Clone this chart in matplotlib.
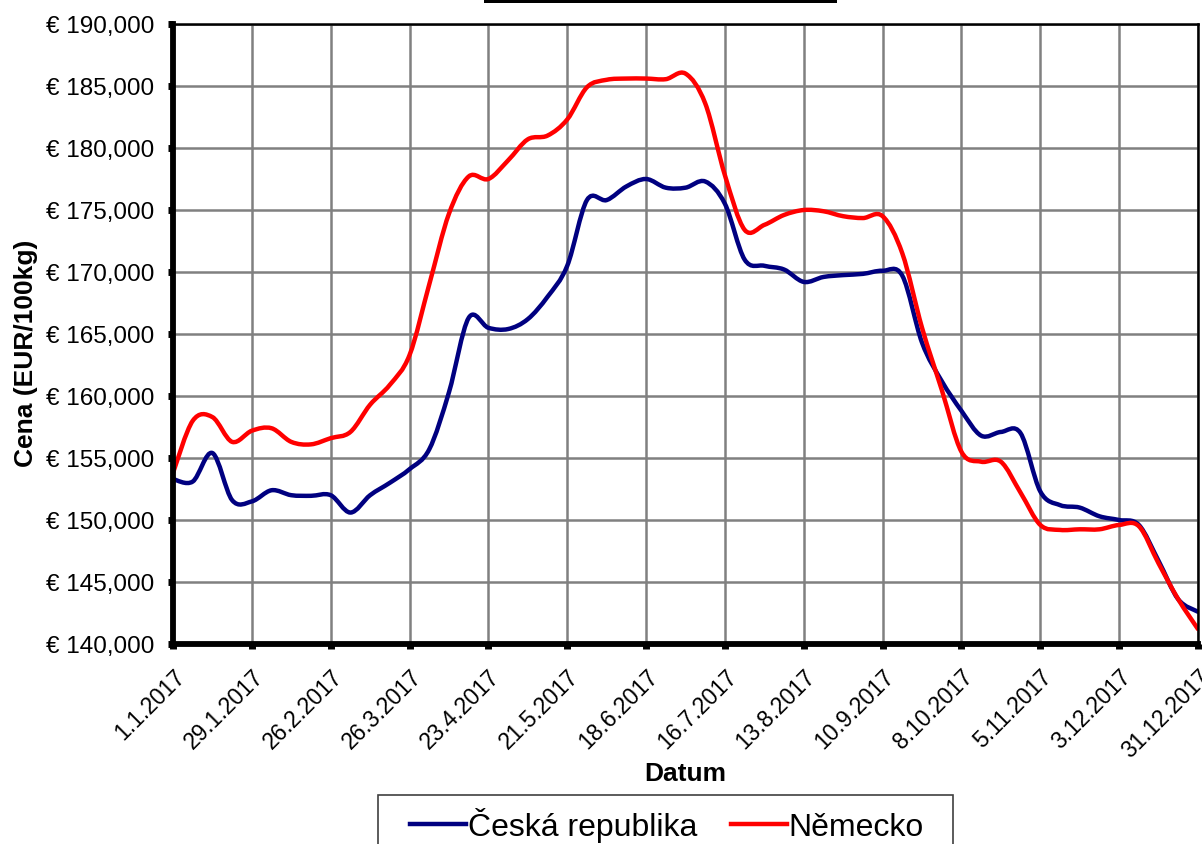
import matplotlib
matplotlib.use("Agg")
import matplotlib.pyplot as plt
import matplotlib.dates as mdates
from matplotlib.path import Path
from matplotlib.patches import PathPatch, Rectangle
from matplotlib.lines import Line2D
from matplotlib.ticker import FuncFormatter, FixedLocator
import numpy as np
import pandas as pd

plt.rcParams['font.family'] = ['Liberation Sans', 'DejaVu Sans']

# ---- data ----
weeks = pd.date_range('2017-01-01', '2017-12-31', freq='7D')

cz = [153300, 153100, 155400, 151600, 151500, 152400, 152000, 151950, 152000, 150600,
      152000, 153000, 154100, 155700, 160300, 166300, 165500, 165400, 166200, 168000,
      170500, 175800, 175800, 176900, 177500, 176800, 176800, 177300, 175500, 171000,
      170500, 170200, 169200, 169600, 169750, 169850, 170100, 169700, 164300, 161200,
      158800, 156800, 157100, 157000, 152300, 151200, 151000, 150300, 150000, 149600,
      146700, 143600, 142600]

de = [153800, 158000, 158300, 156300, 157200, 157400, 156300, 156100, 156600, 157100,
      159300, 160900, 163300, 169000, 174700, 177700, 177500, 179000, 180700, 181000,
      182300, 184900, 185500, 185600, 185600, 185550, 186000, 183600, 177800, 173400,
      173800, 174600, 175000, 174900, 174500, 174350, 174500, 171500, 165500, 160500,
      155500, 154700, 154700, 152200, 149600, 149200, 149250, 149250, 149600, 149500,
      146500, 143600, 141200]

series_names = ['Česká republika', 'Německo']
series_colors = ['#000080', '#FF0000']
tick_dates = pd.date_range('2017-01-01', '2017-12-31', freq='28D')
y_ticks = list(range(140000, 190001, 5000))

# ---- figure ----
fig = plt.figure(figsize=(12.02, 8.45), dpi=100)
ax = fig.add_axes([173/1202, 1-645/845, (1198-173)/1202, (645-25)/845])

def smooth_path(xs, ys):
    P = np.column_stack([xs, ys]).astype(float)
    n = len(P)
    verts = [P[0]]
    codes = [Path.MOVETO]
    for i in range(n-1):
        p0 = P[i-1] if i > 0 else P[i]
        p1 = P[i]
        p2 = P[i+1]
        p3 = P[i+2] if i+2 < n else P[i+1]
        c1 = p1 + (p2 - p0) / 6.0
        c2 = p2 - (p3 - p1) / 6.0
        verts += [c1, c2, p2]
        codes += [Path.CURVE4]*3
    return Path(verts, codes)

xnum = mdates.date2num(weeks.to_pydatetime())
for vals, col in zip([cz, de], series_colors):
    patch = PathPatch(smooth_path(xnum, vals), fill=False, edgecolor=col, lw=3.2,
                      capstyle='round', joinstyle='round', zorder=3)
    ax.add_patch(patch)

ax.set_xlim(mdates.date2num(pd.Timestamp('2017-01-01')), mdates.date2num(pd.Timestamp('2017-12-31')))
ax.set_ylim(140000, 190000)

ax.xaxis.set_major_locator(FixedLocator(mdates.date2num(tick_dates.to_pydatetime())))
ax.set_xticklabels([f"{d.day}.{d.month}.{d.year}" for d in tick_dates])
ax.set_yticks(y_ticks)
ax.yaxis.set_major_formatter(FuncFormatter(lambda v, p: f"€ {v:,.0f}"))

ax.grid(True, color='#808080', lw=1.8, zorder=0)
ax.set_axisbelow(True)

for s in ['left', 'bottom']:
    ax.spines[s].set_linewidth(4.2)
for s in ['top', 'right']:
    ax.spines[s].set_linewidth(1.8)
for s in ax.spines.values():
    s.set_color('black')
    s.set_zorder(5)

ax.tick_params(axis='both', direction='out', length=3.5, width=5, color='black')
ax.tick_params(axis='y', pad=10, labelsize=17.5)
ax.tick_params(axis='x', pad=11, labelsize=16.5)
for lab in ax.get_xticklabels():
    lab.set_rotation(45)
    lab.set_ha('right')
    lab.set_va('top')
    lab.set_rotation_mode('anchor')

ax.set_xlabel('Datum', fontsize=19, fontweight='bold', labelpad=0)
ax.set_ylabel('Cena (EUR/100kg)', fontsize=19, fontweight='bold', labelpad=6, y=0.47)

handles = [Line2D([], [], color=c, lw=3.2) for c in series_colors]
leg = fig.legend(handles, series_names, loc='center left',
                 bbox_to_anchor=(410/1202, 1-826/845), ncol=2, fontsize=23,
                 frameon=False, handlelength=1.75, handletextpad=0.06,
                 columnspacing=1.05, borderpad=0, borderaxespad=0)

fig.add_artist(Rectangle((378/1202, -0.02), (953-378)/1202, (1-796/845)+0.02,
                         transform=fig.transFigure, fill=False, edgecolor='#404040', lw=1.2))

fig.add_artist(Rectangle((484/1202, 1-4/845), (837-484)/1202, 5/845,
                         transform=fig.transFigure, facecolor='black', edgecolor='none'))

fig.savefig('out.png', dpi=100)
